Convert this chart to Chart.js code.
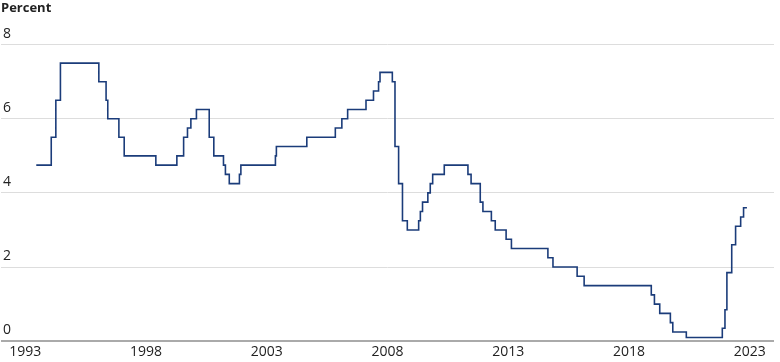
<!DOCTYPE html>
<html>
<head>
<meta charset="utf-8">
<script src="https://cdn.jsdelivr.net/npm/chart.js@4.4.1/dist/chart.umd.min.js"></script>
<style>
  html, body { margin: 0; padding: 0; background: #fff; }
  #wrap { width: 780px; height: 362px; position: relative; }
</style>
</head>
<body>
<div id="wrap"><canvas id="rateChart"></canvas></div>
<script>
// cash rate, each value holds from its date until the next one (decimal years)
const changeDates = [1993.96, 1994.58, 1994.77, 1994.96, 1996.55, 1996.85, 1996.92, 1997.38, 1997.6,
  1998.91, 1999.78, 2000.06, 2000.22, 2000.36, 2000.59, 2001.12, 2001.31, 2001.71, 2001.79, 2001.95,
  2002.37, 2002.43, 2003.86, 2003.9, 2005.16, 2006.34, 2006.61, 2006.85, 2007.61, 2007.92,
  2008.13, 2008.19, 2008.70, 2008.81, 2008.96, 2009.12, 2009.32, 2009.79, 2009.86, 2009.95,
  2010.17, 2010.27, 2010.37, 2010.85, 2011.83, 2011.96, 2012.34, 2012.45, 2012.80, 2012.96,
  2013.41, 2013.63, 2015.14, 2015.35, 2016.35, 2016.64, 2019.42, 2019.55, 2019.77, 2020.21,
  2020.31, 2020.87, 2022.36, 2022.47, 2022.55, 2022.75, 2022.91, 2023.12, 2023.24, 2023.38];
const cashRate = [4.75, 5.5, 6.5, 7.5, 7.0, 6.5, 6.0, 5.5, 5.0,
  4.75, 5.0, 5.5, 5.75, 6.0, 6.25, 5.5, 5.0, 4.75, 4.5, 4.25,
  4.5, 4.75, 5.0, 5.25, 5.5, 5.75, 6.0, 6.25, 6.5, 6.75,
  7.0, 7.25, 7.0, 5.25, 4.25, 3.25, 3.0, 3.25, 3.5, 3.75,
  4.0, 4.25, 4.5, 4.75, 4.5, 4.25, 3.75, 3.5, 3.25, 3.0,
  2.75, 2.5, 2.25, 2.0, 1.75, 1.5, 1.25, 1.0, 0.75, 0.5,
  0.25, 0.1, 0.35, 0.85, 1.85, 2.6, 3.1, 3.35, 3.6, 3.6];
const yearLabels = [1993, 1998, 2003, 2008, 2013, 2018, 2023];
const yTicks = [0, 2, 4, 6, 8];

const FONT = "'Open Sans', 'Noto Sans', sans-serif";
const points = changeDates.map((d, i) => ({x: d, y: cashRate[i]}));

new Chart(document.getElementById('rateChart').getContext('2d'), {
  type: 'line',
  data: { datasets: [{
    data: points,
    stepped: true,
    borderColor: '#1b3c7a',
    borderWidth: 1.6,
    pointRadius: 0,
    fill: false
  }]},
  options: {
    responsive: true,
    maintainAspectRatio: false,
    animation: false,
    layout: { padding: { left: 1, right: 6, top: 0, bottom: 0 } },
    plugins: {
      legend: { display: false },
      tooltip: { enabled: false },
      title: {
        display: true, text: 'Percent', align: 'start', color: '#222',
        font: { family: FONT, size: 13, weight: 'bold' },
        padding: { top: 0, bottom: 29 }
      }
    },
    scales: {
      x: {
        type: 'linear', min: 1992.5, max: 2024.5,
        // labels sit in the middle of each year
        afterBuildTicks: axis => { axis.ticks = yearLabels.map(y => ({value: y + 0.5})); },
        ticks: { callback: v => String(Math.floor(v)), color: '#222', padding: 2, maxRotation: 0,
                 font: { family: FONT, size: 14 } },
        grid: { display: false, drawTicks: false },
        border: { display: false }
      },
      y: {
        min: 0, max: 8,
        afterBuildTicks: axis => { axis.ticks = yTicks.map(v => ({value: v})); },
        afterFit: axis => { axis.width = 0; },  // labels sit inside the plot, above the gridlines
        ticks: { mirror: true, padding: 2, labelOffset: -11, color: '#222',
                 font: { family: FONT, size: 14 } },
        grid: {
          drawTicks: false,
          color: c => c.tick && c.tick.value === 0 ? '#aaaaaa' : '#dddddd',
          lineWidth: c => c.tick && c.tick.value === 0 ? 2 : 1
        },
        border: { display: false }
      }
    }
  }
});
</script>
</body>
</html>
